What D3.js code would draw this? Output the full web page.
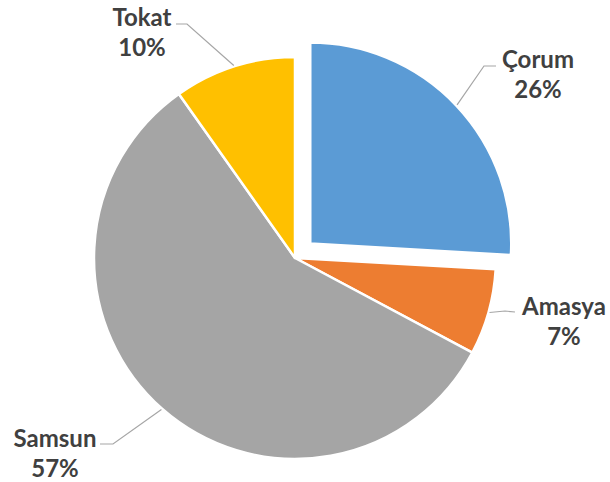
<!DOCTYPE html>
<html>
<head>
<meta charset="utf-8">
<script src="https://cdn.jsdelivr.net/npm/d3@7"></script>
<style>
  html, body { margin: 0; padding: 0; background: #ffffff; }
  svg { display: block; }
  text { font-family: Lato, "Open Sans", sans-serif; font-weight: 700; fill: #404040; }
</style>
</head>
<body>
<svg id="chart" width="610" height="482"></svg>
<script>
// ---- data ----
const categories = ["Çorum", "Amasya", "Samsun", "Tokat"];
const values = [25.9, 6.9, 57.4, 9.8];
const colors = ["#5B9BD5", "#ED7D31", "#A5A5A5", "#FFC000"];
const exploded = [true, false, false, false];

// ---- layout ----
const W = 610, H = 482;
const cx = 295, cy = 258, R = 201, explodeDist = 21;
// label layout: text center x, name baseline y, elbow point, line end
const labelLayout = {
  "Çorum":  { x: 538, y: 68,  elbow: [484, 66],  end: [496, 66] },
  "Amasya": { x: 564, y: 315, elbow: [505, 311], end: [515, 312] },
  "Samsun": { x: 55,  y: 447, elbow: [113, 444], end: [100, 444] },
  "Tokat":  { x: 142, y: 26,  elbow: [187, 24],  end: [176, 24] }
};

const svg = d3.select("#chart");
const data = categories.map((c, i) => ({ name: c, value: values[i], color: colors[i], exploded: exploded[i] }));
const total = d3.sum(values);

const pie = d3.pie().value(d => d.value).sort(null).startAngle(0).endAngle(2 * Math.PI);
const arcs = pie(data);
const arc = d3.arc().innerRadius(0).outerRadius(R);

const g = svg.append("g").attr("transform", `translate(${cx},${cy})`);

function offsetOf(a) {
  if (!a.data.exploded) return [0, 0];
  const mid = (a.startAngle + a.endAngle) / 2;
  return [Math.sin(mid) * explodeDist, -Math.cos(mid) * explodeDist];
}

g.selectAll("path.slice")
  .data(arcs)
  .join("path")
  .attr("class", "slice")
  .attr("d", arc)
  .attr("fill", d => d.data.color)
  .attr("stroke", "#ffffff")
  .attr("stroke-width", 2.5)
  .attr("stroke-linejoin", "round")
  .attr("transform", d => { const o = offsetOf(d); return `translate(${o[0]},${o[1]})`; });

// leader lines
const lines = svg.append("g");
arcs.forEach(a => {
  const L = labelLayout[a.data.name];
  const mid = (a.startAngle + a.endAngle) / 2;
  const o = offsetOf(a);
  const rs = R + 1;
  const sx = cx + o[0] + Math.sin(mid) * rs;
  const sy = cy + o[1] - Math.cos(mid) * rs;
  lines.append("path")
    .attr("d", d3.line()([[sx, sy], L.elbow, L.end]))
    .attr("fill", "none")
    .attr("stroke", "#A6A6A6")
    .attr("stroke-width", 1.2);
});

// labels
const labels = svg.append("g");
arcs.forEach(a => {
  const L = labelLayout[a.data.name];
  const t = labels.append("text")
    .attr("text-anchor", "middle")
    .attr("font-size", 24);
  t.append("tspan").attr("x", L.x).attr("y", L.y).text(a.data.name);
  t.append("tspan").attr("x", L.x).attr("y", L.y + 30).text(Math.round(a.data.value / total * 100) + "%");
});
</script>
</body>
</html>
